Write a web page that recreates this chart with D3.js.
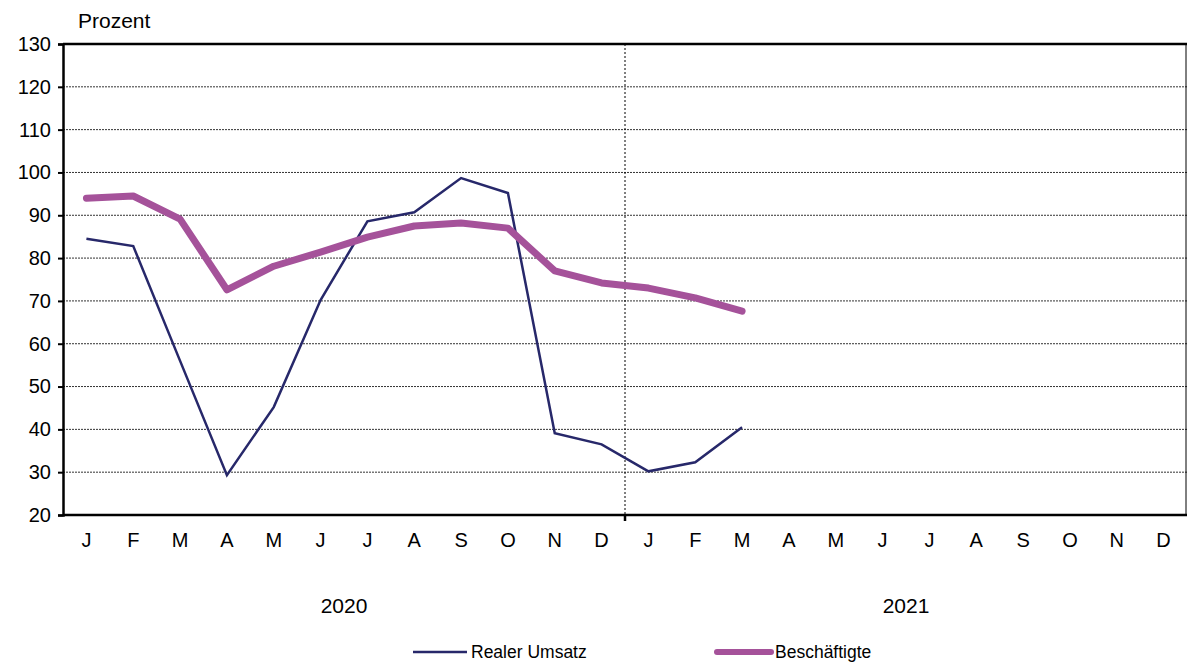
<!DOCTYPE html>
<html>
<head>
<meta charset="utf-8">
<script src="https://cdn.jsdelivr.net/npm/d3@7"></script>
<style>
  body { margin: 0; background: #fff; }
  svg { font-family: "Liberation Sans", Arial, sans-serif; }
</style>
</head>
<body>
<div id="chart"></div>
<script>
var months = ["J","F","M","A","M","J","J","A","S","O","N","D",
              "J","F","M","A","M","J","J","A","S","O","N","D"];
var years = ["2020", "2021"];
var yTicks = [20, 30, 40, 50, 60, 70, 80, 90, 100, 110, 120, 130];

var umsatz = [84.5, 82.8, 56, 29.3, 45.2, 70.2, 88.6, 90.7, 98.7, 95.2, 39.1, 36.5,
              30.2, 32.3, 40.5];
var beschaeftigte = [94, 94.5, 89.1, 72.6, 78.1, 81.4, 84.9, 87.5, 88.2, 87, 77, 74.2,
                     73, 70.7, 67.6];

var w = 1187, h = 663;
var pLeft = 63, pRight = 1187, pTop = 44, pBottom = 515;

var svg = d3.select("#chart").append("svg")
  .attr("width", w)
  .attr("height", h);

var x = d3.scaleBand()
  .domain(d3.range(months.length))
  .range([pLeft, pRight]);

var y = d3.scaleLinear()
  .domain([20, 130])
  .range([pBottom, pTop]);

// gridlines
svg.append("g")
  .selectAll("line")
  .data(yTicks.filter(function(d) { return d > 20 && d < 130; }))
  .enter()
  .append("line")
  .attr("x1", pLeft)
  .attr("x2", pRight)
  .attr("y1", function(d) { return y(d); })
  .attr("y2", function(d) { return y(d); })
  .attr("stroke", "#333")
  .attr("stroke-width", 1)
  .attr("stroke-dasharray", "2,1");

// year separator
svg.append("line")
  .attr("x1", x(12)).attr("x2", x(12))
  .attr("y1", pTop).attr("y2", pBottom)
  .attr("stroke", "#000")
  .attr("stroke-width", 1)
  .attr("stroke-dasharray", "2,2");

// frame
svg.append("line")
  .attr("x1", pLeft).attr("x2", pRight)
  .attr("y1", pTop).attr("y2", pTop)
  .attr("stroke", "#000").attr("stroke-width", 2.5);
svg.append("line")
  .attr("x1", pRight - 1).attr("x2", pRight - 1)
  .attr("y1", pTop).attr("y2", pBottom)
  .attr("stroke", "#000").attr("stroke-width", 1);

// y axis
var yAxis = d3.axisLeft(y)
  .tickValues(yTicks)
  .tickSize(5)
  .tickPadding(7);

var gy = svg.append("g")
  .attr("transform", "translate(" + pLeft + ",0)")
  .call(yAxis);
gy.select(".domain").attr("stroke-width", 2.5);
gy.selectAll(".tick line").attr("stroke-width", 2);
gy.selectAll("text")
  .attr("font-size", 20)
  .attr("fill", "#000")
  .attr("font-family", "Liberation Sans, Arial, sans-serif");

// x axis
var gx = svg.append("g");
gx.append("line")
  .attr("x1", pLeft).attr("x2", pRight)
  .attr("y1", pBottom).attr("y2", pBottom)
  .attr("stroke", "#000").attr("stroke-width", 2.5);
gx.append("line")
  .attr("x1", x(12)).attr("x2", x(12))
  .attr("y1", pBottom).attr("y2", pBottom + 6)
  .attr("stroke", "#000").attr("stroke-width", 2.5);

gx.selectAll("text.month")
  .data(months)
  .enter()
  .append("text")
  .attr("class", "month")
  .attr("x", function(d, i) { return x(i) + x.bandwidth() / 2; })
  .attr("y", 547)
  .attr("text-anchor", "middle")
  .attr("font-size", 20)
  .text(function(d) { return d; });

gx.selectAll("text.year")
  .data(years)
  .enter()
  .append("text")
  .attr("class", "year")
  .attr("x", function(d, i) { return x(i * 12) + x.bandwidth() * 6; })
  .attr("y", 613)
  .attr("text-anchor", "middle")
  .attr("font-size", 21)
  .text(function(d) { return d; });

svg.append("text")
  .attr("x", 78)
  .attr("y", 28)
  .attr("font-size", 21)
  .text("Prozent");

// lines
var line = d3.line()
  .x(function(d, i) { return x(i) + x.bandwidth() / 2; })
  .y(function(d) { return y(d); });

svg.append("path")
  .datum(umsatz)
  .attr("d", line)
  .attr("fill", "none")
  .attr("stroke", "#27286a")
  .attr("stroke-width", 2.5);

svg.append("path")
  .datum(beschaeftigte)
  .attr("d", line)
  .attr("fill", "none")
  .attr("stroke", "#a5529a")
  .attr("stroke-width", 7)
  .attr("stroke-linecap", "round")
  .attr("stroke-linejoin", "round");

// legend
var legend = [
  { name: "Realer Umsatz", color: "#27286a", width: 2.5, x: 413 },
  { name: "Beschäftigte", color: "#a5529a", width: 6, x: 717 }
];
var lg = svg.selectAll("g.legend")
  .data(legend)
  .enter()
  .append("g")
  .attr("class", "legend")
  .attr("transform", function(d) { return "translate(" + d.x + ",652)"; });
lg.append("line")
  .attr("x1", 0).attr("x2", 54)
  .attr("stroke", function(d) { return d.color; })
  .attr("stroke-width", function(d) { return d.width; })
  .attr("stroke-linecap", function(d) { return d.width > 3 ? "round" : "butt"; });
lg.append("text")
  .attr("x", 58)
  .attr("y", 6)
  .attr("font-size", 17.5)
  .text(function(d) { return d.name; });
</script>
</body>
</html>
